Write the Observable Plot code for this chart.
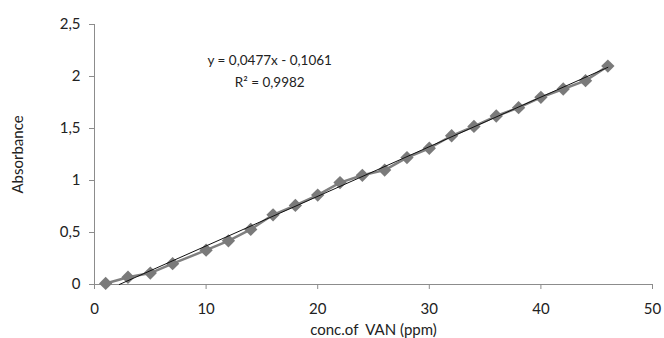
<!DOCTYPE html>
<html>
<head>
<meta charset="utf-8">
<script src="https://cdn.jsdelivr.net/npm/d3@7"></script>
<script src="https://cdn.jsdelivr.net/npm/@observablehq/plot@0.6"></script>
<style>
  html, body { margin: 0; padding: 0; background: #fff; }
  #chart { width: 664px; height: 338px; }
  svg { font-family: Lato, "Open Sans", sans-serif; }
</style>
</head>
<body>
<div id="chart"></div>
<script>
const conc = [1, 3, 5, 7, 10, 12, 14, 16, 18, 20, 22, 24, 26, 28, 30, 32, 34, 36, 38, 40, 42, 44, 46];
const absorbance = [0.01, 0.07, 0.11, 0.20, 0.33, 0.42, 0.53, 0.67, 0.76, 0.86, 0.98, 1.05, 1.10, 1.22, 1.31, 1.43, 1.52, 1.62, 1.70, 1.80, 1.88, 1.96, 2.10];
const slope = [0.0477];
const intercept = [-0.1061];
const equationLines = ["y = 0,0477x - 0,1061", "R² = 0,9982"];
const xTicks = [0, 10, 20, 30, 40, 50];
const yTicks = [0, 0.5, 1, 1.5, 2, 2.5];

const data = conc.map((x, i) => ({x, y: absorbance[i]}));
const m = slope[0], b = intercept[0];
const xStart = -b / m;
const xEnd = d3.max(conc);
const trend = [{x: xStart, y: m * xStart + b}, {x: xEnd, y: m * xEnd + b}];
const fmt = d => String(d).replace(".", ",");

const plot = Plot.plot({
  width: 664,
  height: 338,
  marginLeft: 94,
  marginRight: 12,
  marginTop: 24,
  marginBottom: 54,
  style: {fontFamily: 'Lato, "Open Sans", sans-serif', fontSize: "15px", color: "#222"},
  x: {domain: [0, 50], ticks: xTicks},
  y: {domain: [0, 2.5], ticks: yTicks},
  marks: [
    Plot.ruleX([0], {stroke: "#8c8c8c"}),
    Plot.ruleY([0], {stroke: "#8c8c8c"}),
    Plot.axisX({ticks: xTicks, tickSize: 5, tickPadding: 14, stroke: "#8c8c8c", tickFormat: fmt, fontSize: 15, fill: "#222",
      label: "conc.of  VAN (ppm)", labelAnchor: "center", labelArrow: "none", labelOffset: 50}),
    Plot.axisY({ticks: yTicks, tickSize: 5, tickPadding: 9, stroke: "#8c8c8c", tickFormat: fmt, fontSize: 15, fill: "#222",
      label: "Absorbance", labelAnchor: "center", labelArrow: "none", labelOffset: 82}),
    Plot.line(data, {x: "x", y: "y", stroke: "#808080", strokeWidth: 2.5}),
    Plot.dot(data, {x: "x", y: "y", symbol: "diamond2", r: 6, fill: "#7a7a7a", stroke: "none"}),
    Plot.line(trend, {x: "x", y: "y", stroke: "#111", strokeWidth: 1}),
    Plot.text(equationLines, {x: () => 15.7, y: (d, i) => [2.15, 1.94][i], text: d => d, fontSize: 13.5, fill: "#222", textAnchor: "middle"})
  ]
});
document.getElementById("chart").append(plot);
</script>
</body>
</html>
